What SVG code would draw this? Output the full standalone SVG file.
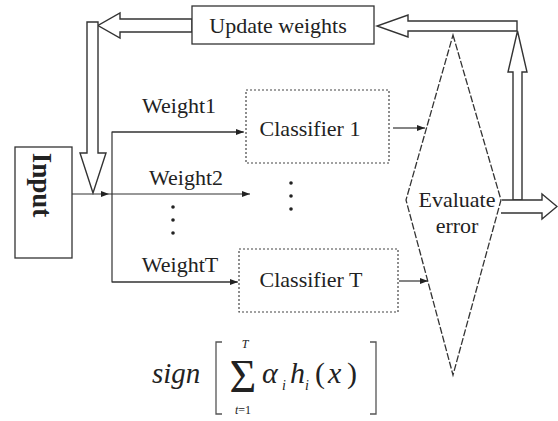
<svg xmlns="http://www.w3.org/2000/svg" width="558" height="421" viewBox="0 0 558 421">
<defs>
<style>
.lbl{font-family:"Liberation Serif","DejaVu Serif","Times New Roman",serif;font-size:22px;fill:#222}
.box{fill:#fff;stroke:#333;stroke-width:1.3}
.dot{fill:#fff;stroke:#444;stroke-width:1.2;stroke-dasharray:2 2}
.hollow{fill:#fff;stroke:#333;stroke-width:1.4;stroke-linejoin:miter}
.ln{fill:none;stroke:#333;stroke-width:1.2}
.math{font-family:"Liberation Serif","DejaVu Serif","Times New Roman",serif;font-style:italic;fill:#222}
</style>
<marker id="ah" viewBox="0 0 8 6" refX="8" refY="3" markerWidth="8" markerHeight="6" markerUnits="userSpaceOnUse" orient="auto">
<path d="M0,0 L8,3 L0,6 Z" fill="#222"/>
</marker>
</defs>
<rect width="558" height="421" fill="#fff"/>

<g id="connectors">
<line class="ln" x1="72" y1="194" x2="109" y2="194" marker-end="url(#ah)"/>
<line class="ln" x1="109" y1="194" x2="250" y2="194" marker-end="url(#ah)"/>
<polyline class="ln" points="243,132 112,132 112,282 237,282"/>
<line class="ln" x1="112" y1="132" x2="244" y2="132" marker-end="url(#ah)"/>
<line class="ln" x1="112" y1="282" x2="238" y2="282" marker-end="url(#ah)"/>
<line class="ln" x1="393" y1="128" x2="425" y2="128" marker-end="url(#ah)"/>
<line class="ln" x1="399" y1="281" x2="428" y2="281" marker-end="url(#ah)"/>
<polygon class="hollow" points="192,19 120,19 120,13 98,25.5 120,38 120,32 192,32"/>
<polygon class="hollow" points="87,22 98,22 98,153 106,153 93,193 80,153 87,153"/>
<polygon class="hollow" points="517,21 408,21 408,15 377,26 408,37 408,31 517,31"/>
<polygon class="hollow" points="513,200 513,72 508,72 517.5,31 527,72 522,72 522,200"/>
<path class="hollow" d="M502,200 H542 V194 L557,206.5 L542,219 V213 H501"/>
</g>

<g id="update-weights">
<rect class="box" x="192" y="6" width="182" height="38"/>
<text class="lbl" x="278" y="33" text-anchor="middle">Update weights</text>
</g>

<g id="input">
<rect class="box" x="15" y="147" width="57" height="111"/>
<text class="lbl" transform="translate(33,185) rotate(90)" text-anchor="middle" style="font-size:27px;font-weight:bold">Input</text>
</g>

<g id="classifier-1">
<rect class="dot" x="246" y="90" width="143" height="73"/>
<text class="lbl" x="310" y="136" text-anchor="middle">Classifier 1</text>
</g>

<g id="classifier-t">
<rect class="dot" x="239" y="249" width="159" height="63"/>
<text class="lbl" x="311" y="287" text-anchor="middle">Classifier T</text>
</g>

<g id="evaluate-error">
<polygon points="453,35 501,200 453,375 406,200" fill="none" stroke="#333" stroke-width="1.3" stroke-dasharray="7 2"/>
<text class="lbl" x="457" y="207" text-anchor="middle">Evaluate</text>
<text class="lbl" x="457" y="233" text-anchor="middle">error</text>
</g>

<g id="weight-labels">
<text class="lbl" x="179" y="113" text-anchor="middle">Weight1</text>
<text class="lbl" x="186" y="185" text-anchor="middle">Weight2</text>
<text class="lbl" x="180" y="272" text-anchor="middle">WeightT</text>
</g>

<g id="ellipsis" fill="#222">
<circle cx="173" cy="207" r="1.8"/>
<circle cx="173" cy="220" r="1.8"/>
<circle cx="173" cy="233" r="1.8"/>
<circle cx="291" cy="183" r="1.8"/>
<circle cx="291" cy="196" r="1.8"/>
<circle cx="291" cy="209" r="1.8"/>
</g>

<g id="formula">
<text class="math" x="152" y="383" style="font-size:29px">sign</text>
<path d="M222,342 H216 V414 H222" fill="none" stroke="#555" stroke-width="1.3"/>
<text x="243" y="392" text-anchor="middle" style="font-family:'Liberation Serif','DejaVu Serif',serif;font-size:46px;fill:#222">Σ</text>
<text class="math" x="245" y="348" text-anchor="middle" style="font-size:12px">T</text>
<text x="243" y="414" text-anchor="middle" style="font-family:'Liberation Serif','DejaVu Serif',serif;font-size:12px;fill:#222"><tspan font-style="italic">t</tspan>=1</text>
<text class="math" style="font-size:30px"><tspan x="262" y="383">α</tspan><tspan x="282" y="390" style="font-size:14px">i</tspan><tspan x="290" y="383">h</tspan><tspan x="305" y="390" style="font-size:14px">i</tspan><tspan x="315" y="383" font-style="normal">(</tspan><tspan x="328" y="383">x</tspan><tspan x="347" y="383" font-style="normal">)</tspan></text>
<path d="M370,342 H376 V414 H370" fill="none" stroke="#555" stroke-width="1.3"/>
</g>
</svg>
